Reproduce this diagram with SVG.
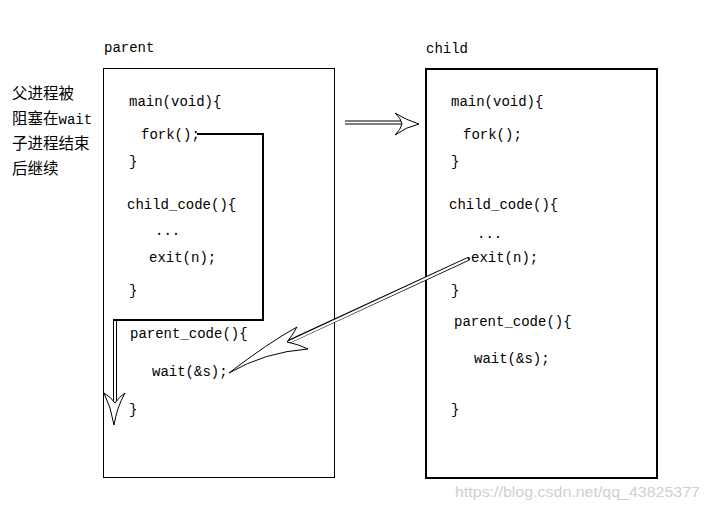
<svg xmlns="http://www.w3.org/2000/svg" width="709" height="510" viewBox="0 0 709 510">
<style>
.code{font-family:"Liberation Mono","DejaVu Sans Mono",monospace;font-size:14px;fill:#000}
.cn{font-family:"Noto Sans CJK SC","Noto Sans CJK JP",sans-serif;font-size:15.5px;fill:#000}
.cnl{font-family:"Liberation Mono",monospace;font-size:14px;fill:#000}
.box{fill:#fff;stroke:#000}
.dbl-o{fill:none;stroke:#000;stroke-width:4}
.dbl-i{fill:none;stroke:#fff;stroke-width:2}
.head{fill:#fff;stroke:#000;stroke-width:1;stroke-linejoin:round}
.wm{font-family:"Liberation Sans",Arial,sans-serif;font-size:15px;fill:#d0d0d0}
</style>
<rect width="709" height="510" fill="#fff"/>
<g id="note">
<text class="cn" x="12" y="99">父进程被</text>
<text class="cn" x="12" y="124">阻塞在<tspan class="cnl">wait</tspan></text>
<text class="cn" x="12" y="149">子进程结束</text>
<text class="cn" x="12" y="174">后继续</text>
</g>
<g id="parent">
<text class="code" x="104" y="52">parent</text>
<rect class="box" x="103.5" y="68.5" width="231" height="409" stroke-width="1"/>
<text class="code" x="129" y="106">main(void){</text>
<text class="code" x="141" y="139">fork();</text>
<text class="code" x="129" y="166">}</text>
<text class="code" x="127" y="209">child_code(){</text>
<text class="code" x="155" y="235">...</text>
<text class="code" x="149" y="262">exit(n);</text>
<text class="code" x="129" y="295">}</text>
<text class="code" x="130" y="338">parent_code(){</text>
<text class="code" x="152" y="376">wait(&amp;s);</text>
<text class="code" x="129" y="414">}</text>
</g>
<g id="child">
<text class="code" x="426" y="53">child</text>
<rect class="box" x="426" y="69" width="231" height="409" stroke-width="2"/>
<text class="code" x="451" y="106">main(void){</text>
<text class="code" x="463" y="139">fork();</text>
<text class="code" x="451" y="166">}</text>
<text class="code" x="449" y="209">child_code(){</text>
<text class="code" x="477" y="238">...</text>
<text class="code" x="471" y="262">exit(n);</text>
<text class="code" x="451" y="295">}</text>
<text class="code" x="454" y="326">parent_code(){</text>
<text class="code" x="474" y="363">wait(&amp;s);</text>
<text class="code" x="451" y="414">}</text>
</g>
<g id="connectors">
<polyline points="197,134 263,134 263,320 113,320" fill="none" stroke="#000" stroke-width="2"/>
<line class="dbl-o" x1="115" y1="320" x2="115" y2="402" stroke-width="3.5"/>
<line class="dbl-i" x1="115" y1="321" x2="115" y2="403" stroke-width="1.5"/>
<path class="head" d="M104,393 Q111,397 115,403 Q119,397 125,393 Q117,407 114,425 Q111,407 104,393 Z"/>
<line class="dbl-o" x1="345" y1="122.5" x2="402" y2="122.5"/>
<line class="dbl-i" x1="344" y1="122.5" x2="403" y2="122.5"/>
<path class="head" d="M395,113 Q406,120 419,124 Q406,127 395,135 Q401,129 402,124 Q401,118 395,113 Z"/>
<line class="dbl-o" x1="468" y1="259" x2="288" y2="342" stroke-linecap="round"/>
<line class="dbl-i" x1="468" y1="259" x2="287" y2="343"/>
<path class="head" d="M297,327 Q292,336 287,342 Q298,344 308,349 Q265,352 229,373 Q268,343 297,327 Z"/>
</g>
<g id="watermark">
<text class="wm" x="455" y="497" textLength="245" lengthAdjust="spacingAndGlyphs">https://blog.csdn.net/qq_43825377</text>
</g>
</svg>
